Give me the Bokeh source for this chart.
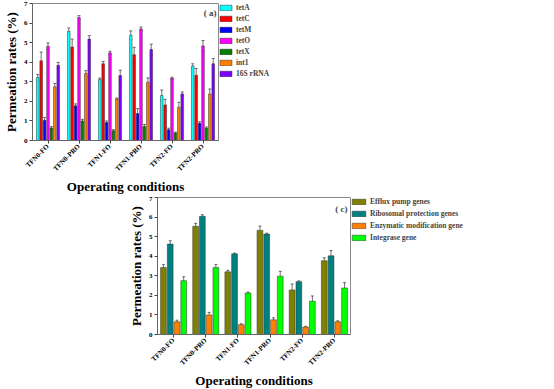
import math
from bokeh.plotting import figure
from bokeh.models import (ColumnDataSource, Whisker, TeeHead, Legend, LegendItem,
                          Range1d, FixedTicker, Label, Spacer)
from bokeh.layouts import column, row
from bokeh.embed import file_html
from bokeh.resources import INLINE

# ---------------- data ----------------
conditions = ["TFN0-FO", "TFN0-PRO", "TFN1-FO", "TFN1-PRO", "TFN2-FO", "TFN2-PRO"]

# panel (a) permeation rates (%)
genes_a = ["tetA", "tetC", "tetM", "tetO", "tetX", "int1", "16S rRNA"]
a_tetA = [3.22, 5.58, 3.12, 5.38, 2.30, 3.80]
a_tetC = [4.07, 4.78, 3.92, 4.38, 1.82, 3.33]
a_tetM = [1.03, 1.77, 0.92, 1.38, 0.55, 0.88]
a_tetO = [4.82, 6.28, 4.48, 5.70, 3.18, 4.83]
a_tetX = [0.64, 1.00, 0.50, 0.72, 0.38, 0.63]
a_int1 = [2.74, 3.42, 2.12, 2.98, 1.70, 2.38]
a_16S = [3.84, 5.18, 3.32, 4.65, 2.38, 3.92]
a_tetA_err = [0.15, 0.17, 0.07, 0.22, 0.28, 0.12]
a_tetC_err = [0.45, 0.40, 0.12, 0.38, 0.28, 0.35]
a_tetM_err = [0.15, 0.10, 0.08, 0.25, 0.08, 0.08]
a_tetO_err = [0.17, 0.10, 0.08, 0.10, 0.05, 0.28]
a_tetX_err = [0.07, 0.08, 0.05, 0.10, 0.05, 0.06]
a_int1_err = [0.18, 0.15, 0.05, 0.22, 0.25, 0.25]
a_16S_err = [0.15, 0.18, 0.27, 0.27, 0.10, 0.27]

# panel (b) gene copies / 16S rRNA
genes_b = ["tetA", "tetC", "tetM", "tetO", "tetX", "int1"]
b_tetA = [1.66e-3, 2.7e-3, 4.0e-3, 4.3e-3, 3.4e-3, 3.3e-3]
b_tetC = [5.3e-4, 2.0e-4, 5.5e-4, 2.3e-4, 1.4e-4, 3.8e-4]
b_tetM = [6.5e-6, 1.35e-5, 2.7e-5, 3.2e-5, 3.1e-5, 3.7e-5]
b_tetO = [5.8e-4, 8.3e-4, 1.1e-3, 8.4e-4, 8.0e-4, 7.7e-4]
b_tetX = [2.3e-5, 6.0e-5, 3.2e-5, 4.2e-5, 4.4e-5, 7.3e-5]
b_int1 = [2.1e-3, 3.9e-3, 4.5e-3, 3.4e-3, 3.6e-3, 4.6e-3]
b_tetA_err = [3.5e-4, 2.5e-4, 5e-4, 7e-4, 6e-4, 6e-4]
b_tetC_err = [8e-5, 3.5e-5, 5e-5, 1e-5, 3e-5, 1.2e-4]
b_tetM_err = [2.5e-6, 5e-7, 1.3e-5, 1.3e-5, 4e-6, 8e-6]
b_tetO_err = [8e-5, 1e-4, 4e-4, 1.3e-4, 1.5e-4, 1.2e-4]
b_tetX_err = [5e-6, 5e-6, 7e-6, 2.5e-5, 8e-6, 2e-5]
b_int1_err = [2.5e-4, 9e-4, 4e-4, 4e-4, 7e-4, 9e-4]

# panel (c) permeation rates (%) by gene group
groups_c = ["Efflux pump genes", "Ribosomal protection genes",
            "Enzymatic modification gene", "Integrase gene"]
c_efflux = [3.42, 5.53, 3.20, 5.32, 2.28, 3.77]
c_ribo = [4.62, 6.04, 4.12, 5.13, 2.70, 4.02]
c_enzym = [0.65, 1.00, 0.50, 0.75, 0.38, 0.65]
c_integ = [2.75, 3.42, 2.12, 2.98, 1.70, 2.38]
c_efflux_err = [0.15, 0.15, 0.08, 0.22, 0.30, 0.15]
c_ribo_err = [0.17, 0.08, 0.04, 0.05, 0.04, 0.27]
c_enzym_err = [0.08, 0.13, 0.05, 0.10, 0.04, 0.05]
c_integ_err = [0.20, 0.15, 0.05, 0.25, 0.27, 0.27]

yticks_a = [0, 1, 2, 3, 4, 5, 6, 7]
yticks_b = [1e-6, 1e-5, 1e-4, 1e-3, 1e-2]
yticklabels_b = ["1E-6", "1E-5", "1E-4", "0.001", "0.01"]

colors_a = ["#00FFFF", "#FF0000", "#0000FF", "#FF00FF", "#007F00", "#FF8000", "#8000FF"]
colors_b = colors_a[:6]
colors_c = ["#808000", "#008080", "#FF8000", "#00FF00"]

FONT = "Liberation Serif"


def base_fig(frame_w, frame_h, y_type="linear", **kw):
    p = figure(frame_width=frame_w, frame_height=frame_h, output_backend="svg",
               toolbar_location=None, y_axis_type=y_type,
               x_range=Range1d(-0.5, 5.5), **kw)
    p.grid.visible = False
    p.background_fill_color = "white"
    p.outline_line_color = "#888888"
    p.outline_line_width = 1
    for ax in p.axis:
        ax.axis_line_color = "#666666"
        ax.major_tick_line_color = "#444444"
        ax.minor_tick_line_color = "#444444"
        ax.major_label_text_font = FONT
        ax.major_label_text_font_style = "bold"
        ax.major_label_text_font_size = "7px"
        ax.axis_label_text_font = FONT
        ax.axis_label_text_font_style = "bold"
        ax.axis_label_text_color = "black"
        ax.major_label_text_color = "black"
        ax.major_tick_in = 0
        ax.major_tick_out = 3
        ax.minor_tick_in = 0
        ax.minor_tick_out = 0
        ax.major_label_standoff = 2
        ax.axis_label_standoff = 2
    p.xaxis.ticker = FixedTicker(ticks=list(range(len(conditions))))
    p.xaxis.major_label_overrides = {i: c for i, c in enumerate(conditions)}
    p.xaxis.major_label_orientation = math.pi / 4
    p.xaxis.axis_label = "Operating conditions"
    p.xaxis.axis_label_text_font_size = "13px"
    p.xaxis.axis_label_standoff = 0
    return p


def draw_groups(p, names, series, errs, colors, pitch, width, bottom):
    n = len(names)
    items = []
    for j, (name, vals, err, col) in enumerate(zip(names, series, errs, colors)):
        off = (j - (n - 1) / 2) * pitch
        xs = [i + off for i in range(len(conditions))]
        src = ColumnDataSource(dict(x=xs, top=vals,
                                    up=[v + e for v, e in zip(vals, err)],
                                    lo=[v - e for v, e in zip(vals, err)]))
        r = p.vbar(x="x", top="top", bottom=bottom, width=width, source=src,
                   fill_color=col, line_color="#333333", line_width=0.5)
        w = Whisker(source=src, base="x", upper="up", lower="lo", dimension="height",
                    line_color="#333333", line_width=0.7,
                    upper_head=TeeHead(size=3, line_color="#333333", line_width=0.7),
                    lower_head=TeeHead(size=3, line_color="#333333", line_width=0.7))
        p.add_layout(w)
        items.append(LegendItem(label=name, renderers=[r]))
    return items


def add_legend(p, items, gw, gh, spacing, fs):
    lg = Legend(items=items, location="top_left", margin=0, padding=1,
                spacing=spacing, glyph_width=gw, glyph_height=gh,
                label_height=gh, label_standoff=3,
                label_text_font=FONT, label_text_font_style="bold",
                label_text_font_size=fs, border_line_color=None,
                background_fill_alpha=0)
    p.add_layout(lg, "right")


def panel_label(p, txt, x, y):
    p.add_layout(Label(x=x, y=y, x_units="screen", y_units="screen", text=txt,
                       text_font=FONT, text_font_style="bold", text_font_size="9px",
                       text_align="right", text_baseline="top"))


# ---------------- panel (a) ----------------
pa = base_fig(186, 137, min_border_left=10, min_border_top=3, min_border_bottom=10,
              y_range=Range1d(0, 7))
pa.yaxis.ticker = FixedTicker(ticks=yticks_a)
pa.yaxis.axis_label = "Permeation rates (%)"
pa.yaxis.axis_label_text_font_size = "13px"
items_a = draw_groups(pa, genes_a,
                      [a_tetA, a_tetC, a_tetM, a_tetO, a_tetX, a_int1, a_16S],
                      [a_tetA_err, a_tetC_err, a_tetM_err, a_tetO_err, a_tetX_err,
                       a_int1_err, a_16S_err],
                      colors_a, 0.11, 0.085, 0)
add_legend(pa, items_a, 15, 7, 2, "7.5px")
panel_label(pa, "( a)", 184, 133)

# ---------------- panel (b) ----------------
pb = base_fig(186, 137, y_type="log", min_border_left=10, min_border_top=3,
              min_border_bottom=10, y_range=Range1d(1e-6, 1e-2))
minor_b = [k * 10.0 ** e for e in range(-6, -2) for k in range(2, 10)]
pb.yaxis.ticker = FixedTicker(ticks=yticks_b, minor_ticks=minor_b)
pb.yaxis.major_label_overrides = {t: l for t, l in zip(yticks_b, yticklabels_b)}
pb.yaxis.minor_tick_out = 0
pb.yaxis.minor_tick_in = 2
pb.yaxis.axis_label = "Gene copies/16S rRNA"
pb.yaxis.axis_label_text_font_size = "11px"
items_b = draw_groups(pb, genes_b,
                      [b_tetA, b_tetC, b_tetM, b_tetO, b_tetX, b_int1],
                      [b_tetA_err, b_tetC_err, b_tetM_err, b_tetO_err, b_tetX_err,
                       b_int1_err],
                      colors_b, 0.128, 0.1, 1e-6)
pb.segment(x0=[i - 0.39 for i in range(len(conditions))], y0=1.05e-6,
           x1=[i + 0.39 for i in range(len(conditions))], y1=1.05e-6,
           line_color="black", line_width=2.5)
add_legend(pb, items_b, 15, 8, 2, "7.5px")
panel_label(pb, "( b)", 184, 131)

# ---------------- panel (c) ----------------
pc = base_fig(193, 137, min_border_left=10, min_border_top=1, min_border_bottom=10,
              y_range=Range1d(0, 7))
pc.yaxis.ticker = FixedTicker(ticks=yticks_a)
pc.yaxis.axis_label = "Permeation rates (%)"
pc.yaxis.axis_label_text_font_size = "13px"
items_c = draw_groups(pc, groups_c, [c_efflux, c_ribo, c_enzym, c_integ],
                      [c_efflux_err, c_ribo_err, c_enzym_err, c_integ_err],
                      colors_c, 0.21, 0.18, 0)
add_legend(pc, items_c, 17, 7, 3, "7.5px")
panel_label(pc, "( c)", 190, 131)

layout = column(row(pa, pb), row(Spacer(width=125, height=10), pc))
open("out.html", "w").write(file_html(layout, INLINE))
